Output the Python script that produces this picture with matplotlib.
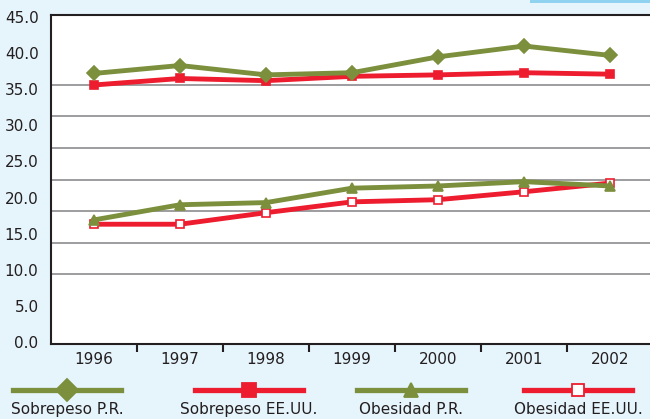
import matplotlib.pyplot as plt
import matplotlib.lines as mlines
import matplotlib.patches as patches
import numpy as np

# Data
years = ['1996', '1997', '1998', '1999', '2000', '2001', '2002']
sobrepeso_pr = [37.2, 38.3, 37.0, 37.3, 39.5, 41.0, 39.7]
sobrepeso_us = [35.6, 36.5, 36.2, 36.8, 37.0, 37.3, 37.1]
obesidad_pr = [16.9, 19.0, 19.3, 21.3, 21.6, 22.2, 21.6]
obesidad_us = [16.3, 16.3, 17.9, 19.4, 19.7, 20.8, 22.0]
y_ticks = [0, 5, 10, 15, 20, 25, 30, 35, 40, 45]

green = '#7b8f3d'
red = '#ed1c2e'
text_color = '#231f20'
bg = '#e6f4fc'

plt.rcParams['font.family'] = ['DejaVu Sans']

fig = plt.figure(figsize=(6.5, 4.19), dpi=100, facecolor=bg)
ax = fig.add_axes([51 / 650, 1 - 344 / 419, 602 / 650, 329 / 419])
ax.set_facecolor('white')

x = np.arange(len(years))
# values, label, colour, marker, plot size, legend size, face colour
series = [
    (sobrepeso_pr, 'Sobrepeso P.R.', green, 'D', 7, 11, green),
    (sobrepeso_us, 'Sobrepeso EE.UU.', red, 's', 6.2, 10, red),
    (obesidad_pr, 'Obesidad P.R.', green, '^', 7, 10, green),
    (obesidad_us, 'Obesidad EE.UU.', red, 's', 5.8, 8, 'white'),
]
# draw in reverse so the green lines sit on top like the original
for vals, label, col, mk, ms, lms, fc in series[::-1]:
    ax.plot(x, vals, color=col, lw=3.5, marker=mk, markersize=ms,
            markerfacecolor=fc, markeredgecolor=col, markeredgewidth=1.2,
            zorder=3)

ax.set_xlim(-0.5, 6.5)
ax.set_ylim(-0.3, 45.3)

# y labels every 5, odd gridline spacing as in the source
ax.set_yticks(y_ticks)
ax.set_yticklabels([f'{v:.1f}' for v in y_ticks], fontsize=11, color=text_color)
ax.set_yticks(np.linspace(5, 40, 9), minor=True)
ax.tick_params(axis='y', which='both', length=0, pad=9)
ax.grid(True, axis='y', which='minor', color='#9d9d9f', lw=1.4)

ax.set_xticks(x)
ax.set_xticklabels(years, fontsize=11, color=text_color)
ax.set_xticks(x[:-1] + 0.5, minor=True)
ax.tick_params(axis='x', which='major', length=0, pad=6)
ax.tick_params(axis='x', which='minor', length=6, width=1.5, color='#231f20', direction='out')

for s in ['left', 'bottom', 'top']:
    ax.spines[s].set_color('#231f20')
    ax.spines[s].set_linewidth(1.5)
ax.spines['right'].set_visible(False)

# small highlight strip at top right
fig.add_artist(patches.Rectangle((530 / 650, 1 - 3 / 419), 120 / 650, 3 / 419,
                                 transform=fig.transFigure, color='#8fd3f0', lw=0))

# legend: handle line with text centred below
centers = [67, 249, 411, 578]
for (vals, label, col, mk, ms, lms, fc), cx in zip(series, centers):
    y0 = 1 - 390 / 419
    line = mlines.Line2D([(cx - 54) / 650, (cx + 54) / 650], [y0, y0], color=col, lw=3.8,
                         transform=fig.transFigure)
    fig.add_artist(line)
    mark = mlines.Line2D([cx / 650], [y0], marker=mk, markersize=lms, color=col,
                         markerfacecolor=fc, markeredgecolor=col, markeredgewidth=1.3,
                         transform=fig.transFigure)
    fig.add_artist(mark)
    fig.text(cx / 650, 1 - 409 / 419, label, ha='center', va='center',
             fontsize=11, color=text_color)

fig.savefig('out.png', dpi=100, facecolor=bg)
